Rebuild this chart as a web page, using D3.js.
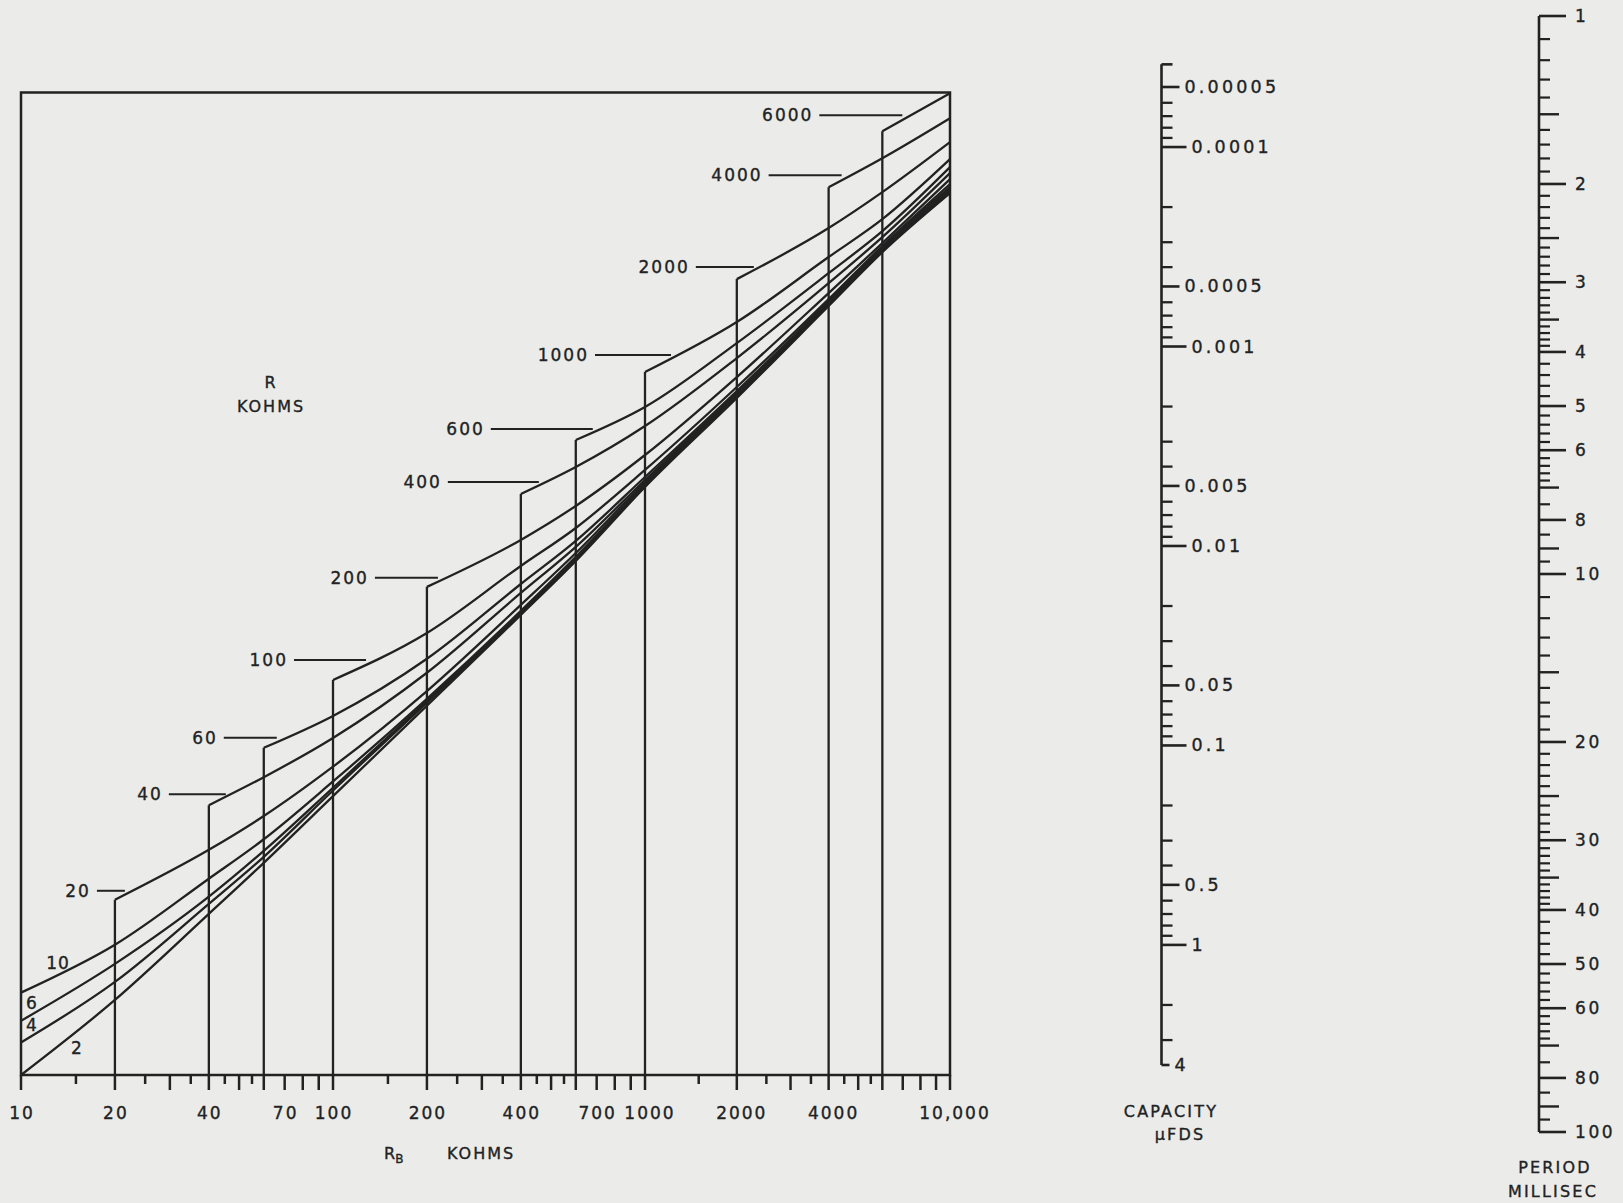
<!DOCTYPE html>
<html><head><meta charset="utf-8">
<script src="https://cdn.jsdelivr.net/npm/d3@7"></script>
<style>
html,body{margin:0;padding:0;background:#ebebe9;}
svg{display:block;}
text{font-family:"DejaVu Sans",sans-serif;fill:#222;stroke:#222;stroke-width:0.35px;}
</style></head><body>
<svg id="c" width="1623" height="1203"></svg>
<script>
// ---------------- DATA ----------------
// R_B grid (kohms) at which curves were read
const rbGrid = [10, 20, 40, 60, 100, 200, 400, 600, 1000, 2000, 4000, 6000, 10000];
// R curve parameters (kohms)
const rCurves = [2, 4, 6, 10, 20, 40, 60, 100, 200, 400, 600, 1000, 2000, 4000, 6000];
// effective resistance (kohm) along each R curve, starting at R_B = max(10, R)
const F_R2    = [17.6, 30.7, 58.1, 84.8, 139, 272, 533, 795, 1375, 2660, 5260, 7840, 12140];
const F_R4    = [22.4, 35.1, 62.6, 88.7, 145, 278, 537, 801, 1385, 2680, 5300, 7900, 12230];
const F_R6    = [26.3, 40.1, 66.0, 92.7, 148, 282, 541, 807, 1396, 2700, 5340, 7960, 12280];
const F_R10   = [32.4, 46.2, 75.4, 101, 155, 286, 549, 819, 1406, 2710, 5360, 7990, 12320];
const F_R20   = [64.5, 93.4, 120, 173, 303, 574, 843, 1427, 2740, 5370, 8020, 12410];
const F_R40   = [130, 160, 214, 347, 627, 882, 1448, 2760, 5410, 8080, 12510];
const F_R60   = [199, 252, 385, 670, 922, 1481, 2800, 5450, 8140, 12690];
const F_R100  = [329, 466, 766, 1015, 1560, 2885, 5535, 8200, 12980];
const F_R200  = [656, 929, 1195, 1743, 3106, 5790, 8380, 13470];
const F_R400  = [1306, 1595, 2161, 3576, 6230, 8760, 14080];
const F_R600  = [1948, 2488, 3996, 6710, 9160, 14720];
const F_R1000 = [3224, 4670, 7560, 10010, 15620];
const F_R2000 = [6420, 9370, 12230, 17720];
const F_R4000 = [12690, 15730, 21160];
const F_R6000 = [19220, 25470];
const curveValues = {2:F_R2,4:F_R4,6:F_R6,10:F_R10,20:F_R20,40:F_R40,60:F_R60,100:F_R100,
  200:F_R200,400:F_R400,600:F_R600,1000:F_R1000,2000:F_R2000,4000:F_R4000,6000:F_R6000};

// axis tick labels
const rbTickValues = [10, 20, 40, 70, 100, 200, 400, 700, 1000, 2000, 4000, 10000];
const rbTickLabels = ["10","20","40","70","100","200","400","700","1000","2000","4000","10,000"];
const capLabelValues = [0.00005, 0.0001, 0.0005, 0.001, 0.005, 0.01, 0.05, 0.1, 0.5, 1, 4];
const capLabelText   = ["0.00005","0.0001","0.0005","0.001","0.005","0.01","0.05","0.1","0.5","1","4"];
const periodLabelValues = [1, 2, 3, 4, 5, 6, 8, 10, 20, 30, 40, 50, 60, 80, 100];

// ---------------- LAYOUT ----------------
const ink = "#222";
const svg = d3.select("#c");
const x = d3.scaleLog().domain([10, 100, 1000, 10000]).range([21, 333, 645, 950]);
const y = d3.scaleLog().domain([17.6, 25600]).range([1075, 92.5]);
const yCap = d3.scaleLog().domain([0.00005, 4]).range([87, 1065]);
const yPer = d3.scaleLog().domain([1, 100]).range([16, 1132]);
const capX = 1161.5, perX = 1539;
const fontNum = 17;
const lw = 2.3;

// leader layout for labelled curves: [leader length, end dx from vertical, end dy above start]
const leader = {20:[28,10,9],40:[57,17,11],60:[53,13,10],100:[72,33,20],200:[63,11,9],
  400:[91,18,12],600:[102,17,11],1000:[76,26,17],2000:[58,17,12],4000:[73,13,12],6000:[83,20,16]};
// small labels at left edge: [dx from left edge, dy from curve start]
const leftLab = {10:[37,-30],6:[11,-18],4:[11,-17],2:[56,-27]};

const g = svg.append("g");

// frame
g.append("rect").attr("x", x(10)).attr("y", y.range()[1])
  .attr("width", x(10000) - x(10)).attr("height", y.range()[0] - y.range()[1])
  .attr("fill", "none").attr("stroke", ink).attr("stroke-width", 2.5);

// curves + verticals
const line = d3.line().x(d => x(d[0])).y(d => y(d[1])).curve(d3.curveMonotoneX);
rCurves.forEach(R => {
  const start = rbGrid.indexOf(Math.max(10, R));
  const pts = curveValues[R].map((v, i) => [rbGrid[start + i], v]);
  g.append("path").attr("d", line(pts)).attr("fill", "none")
    .attr("stroke", ink).attr("stroke-width", lw);
  const xs = x(pts[0][0]), ys = y(pts[0][1]);
  if (R >= 20) {
    g.append("line").attr("x1", xs).attr("x2", xs).attr("y1", y.range()[0]).attr("y2", ys)
      .attr("stroke", ink).attr("stroke-width", lw);
    const [len, dx, dy] = leader[R];
    const xe = xs + dx, yl = ys - dy;
    g.append("line").attr("x1", xe - len).attr("x2", xe).attr("y1", yl).attr("y2", yl)
      .attr("stroke", ink).attr("stroke-width", 2);
    g.append("text").attr("x", xe - len - 6).attr("y", yl).attr("text-anchor", "end")
      .attr("dominant-baseline", "central").attr("font-size", fontNum)
      .attr("letter-spacing", 2).text(R);
  } else {
    const [dx, dy] = leftLab[R];
    g.append("text").attr("x", xs + dx).attr("y", ys + dy).attr("text-anchor", "middle")
      .attr("dominant-baseline", "central").attr("font-size", fontNum)
      .attr("letter-spacing", 1).text(R);
  }
});

// x axis ticks
const yb = y.range()[0];
[10, 100, 1000].forEach(dec => {
  [1,1.5,2,2.5,3,3.5,4,4.5,5,5.5,6,7,8,9].forEach(m => {
    const v = dec * m, half = (m % 1) !== 0;
    g.append("line").attr("x1", x(v)).attr("x2", x(v)).attr("y1", yb).attr("y2", yb + (half ? 9 : 15))
      .attr("stroke", ink).attr("stroke-width", 2.5);
  });
});
g.append("line").attr("x1", x(10000)).attr("x2", x(10000)).attr("y1", yb).attr("y2", yb + 15)
  .attr("stroke", ink).attr("stroke-width", 2.5);
rbTickValues.forEach((v, i) => {
  g.append("text").attr("x", x(v) + (v >= 1000 ? 5 : 1)).attr("y", 1113).attr("text-anchor", "middle")
    .attr("dominant-baseline", "central").attr("font-size", fontNum).attr("letter-spacing", 2)
    .text(rbTickLabels[i]);
});
// x title
const xt = g.append("text").attr("y", 1153).attr("font-size", 16).attr("dominant-baseline", "central");
xt.append("tspan").attr("x", 384).text("R");
xt.append("tspan").attr("dy", 6).attr("font-size", 12).text("B");
g.append("text").attr("x", 447).attr("y", 1153).attr("font-size", 16).attr("letter-spacing", 2)
  .attr("dominant-baseline", "central").text("KOHMS");
// R KOHMS
g.append("text").attr("x", 270).attr("y", 382).attr("text-anchor", "middle").attr("font-size", 16)
  .attr("dominant-baseline", "central").text("R");
g.append("text").attr("x", 271).attr("y", 406).attr("text-anchor", "middle").attr("font-size", 16)
  .attr("letter-spacing", 2).attr("dominant-baseline", "central").text("KOHMS");

// ---------------- CAPACITY SCALE ----------------
const cap = svg.append("g");
cap.append("line").attr("x1", capX).attr("x2", capX).attr("y1", yCap(0.0000385)).attr("y2", yCap(4))
  .attr("stroke", ink).attr("stroke-width", 2.6);
cap.append("line").attr("x1", capX).attr("x2", capX + 11).attr("y1", yCap(0.0000385)).attr("y2", yCap(0.0000385))
  .attr("stroke", ink).attr("stroke-width", 2.6);
const capMinor = [];
[0.00001, 0.0001, 0.001, 0.01, 0.1, 1].forEach(dec => {
  [2,3,4,6,7,8,9].forEach(m => {
    const v = dec * m;
    if (v > 0.00005 && v < 3.9) capMinor.push(v);
  });
});
capMinor.forEach(v => {
  cap.append("line").attr("x1", capX).attr("x2", capX + 11).attr("y1", yCap(v)).attr("y2", yCap(v))
    .attr("stroke", ink).attr("stroke-width", 2.3);
});
capLabelValues.forEach((v, i) => {
  const s = capLabelText[i];
  const one = /1$/.test(s), last = v === 4;
  const len = last ? 8 : (one ? 25 : 18);
  cap.append("line").attr("x1", capX).attr("x2", capX + len).attr("y1", yCap(v)).attr("y2", yCap(v))
    .attr("stroke", ink).attr("stroke-width", 2.6);
  cap.append("text").attr("x", capX + len + 5).attr("y", yCap(v)).attr("dominant-baseline", "central")
    .attr("font-size", fontNum + 0.5).attr("letter-spacing", 3.2).text(s);
});
cap.append("text").attr("x", 1171).attr("y", 1111).attr("text-anchor", "middle").attr("font-size", 16)
  .attr("letter-spacing", 2.2).attr("dominant-baseline", "central").text("CAPACITY");
cap.append("text").attr("x", 1180).attr("y", 1134).attr("text-anchor", "middle").attr("font-size", 16)
  .attr("letter-spacing", 2.2).attr("dominant-baseline", "central").text("µFDS");

// ---------------- PERIOD SCALE ----------------
const per = svg.append("g");
per.append("line").attr("x1", perX).attr("x2", perX).attr("y1", yPer(1)).attr("y2", yPer(100))
  .attr("stroke", ink).attr("stroke-width", 2.6);
const perMinor = [], perMid = [];
[1, 10].forEach(dec => {
  for (let k = 11; k < 40; k++) { if (k % 10 !== 0) ((k % 10 === 5) ? perMid : perMinor).push(dec * k / 10); }
  for (let k = 42; k < 70; k += 2) { if (k !== 50 && k !== 60) perMinor.push(dec * k / 10); }
  [7, 9].forEach(m => perMid.push(dec * m));
  [7.5, 8.5, 9.5].forEach(m => perMinor.push(dec * m));
});
perMinor.forEach(v => per.append("line").attr("x1", perX).attr("x2", perX + 11)
  .attr("y1", yPer(v)).attr("y2", yPer(v)).attr("stroke", ink).attr("stroke-width", 2.2));
perMid.forEach(v => per.append("line").attr("x1", perX).attr("x2", perX + 20)
  .attr("y1", yPer(v)).attr("y2", yPer(v)).attr("stroke", ink).attr("stroke-width", 2.4));
periodLabelValues.forEach(v => {
  per.append("line").attr("x1", perX).attr("x2", perX + 27).attr("y1", yPer(v)).attr("y2", yPer(v))
    .attr("stroke", ink).attr("stroke-width", 2.6);
  per.append("text").attr("x", perX + 36).attr("y", yPer(v)).attr("dominant-baseline", "central")
    .attr("font-size", fontNum).attr("letter-spacing", 2.6).text(v);
});
per.append("text").attr("x", 1555).attr("y", 1167).attr("text-anchor", "middle").attr("font-size", 16)
  .attr("letter-spacing", 2.2).attr("dominant-baseline", "central").text("PERIOD");
per.append("text").attr("x", 1553).attr("y", 1191).attr("text-anchor", "middle").attr("font-size", 16)
  .attr("letter-spacing", 2.2).attr("dominant-baseline", "central").text("MILLISEC");
</script></body></html>
